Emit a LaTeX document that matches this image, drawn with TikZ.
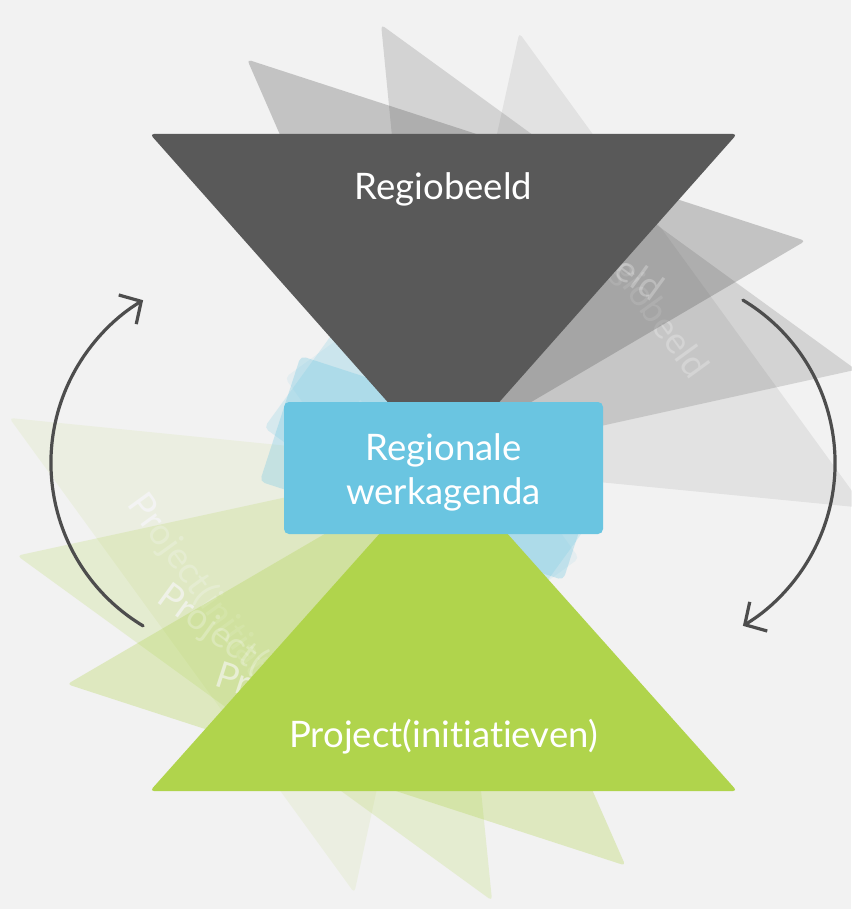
\documentclass[tikz,border=0pt]{standalone}
\usepackage{fontspec}
\setmainfont{Lato}[Ligatures=NoCommon]
\usetikzlibrary{arrows.meta}
\definecolor{bgc}{HTML}{F2F2F2}
\definecolor{darkc}{HTML}{595959}
\definecolor{greenc}{HTML}{B0D44C}
\definecolor{bluec}{HTML}{6AC5E1}
\definecolor{arrowc}{HTML}{4D4D4D}
\newcommand\hgGray[1]{%
  \fill[graytri] (150,134) -- (737,134) -- (443.5,465) -- cycle;
  \node[lbl, anchor=base] (rb#1) at (443.5,200) {Regiobeeld};}
\newcommand\hgGreen[1]{%
  \fill[greentri] (150,791) -- (737,791) -- (443.5,462) -- cycle;
  \node[lbl, anchor=base] (pi#1) at (443.5,747) {Project(initiatieven)};}
\newcommand\hgBlue[1]{%
  \node[bluebox] (wk#1) at (443.5,468) {};
  \node[lbl] (wkt#1) at (443.5,472) {Regionale\\werkagenda};}
\newcommand\ghostcopy[3]{% #1 suffix, #2 angle, #3 opacity
  \begin{scope}[transparency group, opacity=#3]
    \begin{scope}[shift={(424,465)}, rotate=-#2, shift={(-443.5,-465)}, transform shape]
      \hgGray{#1}
    \end{scope}
    \begin{scope}[shift={(448,462)}, rotate=-#2, shift={(-443.5,-462)}, transform shape]
      \hgGreen{#1}
    \end{scope}
    \begin{scope}[shift={(432,468)}, rotate=-#2, shift={(-443.5,-468)}, transform shape]
      \hgBlue{#1}
    \end{scope}
  \end{scope}}
\begin{document}
\begin{tikzpicture}[x=1pt,y=-1pt,
  graytri/.style={fill=darkc, rounded corners=4pt},
  greentri/.style={fill=greenc, rounded corners=4pt},
  bluebox/.style={fill=bluec, rounded corners=5pt, minimum width=319pt, minimum height=132pt, inner sep=0pt},
  lbl/.style={text=white, font=\fontsize{36.5}{44}\selectfont, align=center, inner sep=0pt},
  arrowline/.style={draw=arrowc, line width=3.2pt, line cap=round, -{Straight Barb[length=16pt,width=34pt]}}
]
\useasboundingbox (0,0) rectangle (851,909);
\fill[bgc] (0,0) rectangle (851,909);
\begin{scope}
  \clip (0,0) rectangle (851,909);
  \ghostcopy{c}{54}{0.1}
  \ghostcopy{b}{36}{0.2}
  \ghostcopy{a}{18}{0.3}
  \hgGray{}
  \hgGreen{}
  \hgBlue{}
\end{scope}
\coordinate (la) at (143.1,625.9);
\coordinate (ra) at (742.9,300.1);
\draw[arrowline] (la) arc[start angle=121, end angle=239, radius=190];
\draw[arrowline] (ra) arc[start angle=-59, end angle=59, radius=190];
\end{tikzpicture}
\end{document}
